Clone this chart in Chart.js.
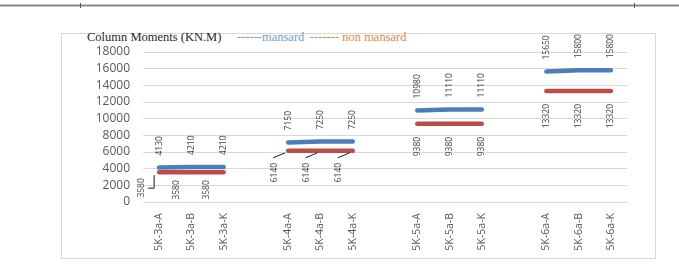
<!DOCTYPE html>
<html>
<head>
<meta charset="utf-8">
<title>Column Moments</title>
<script src="https://cdn.jsdelivr.net/npm/chart.js@4.4.0/dist/chart.umd.min.js"></script>
<style>
  html, body { margin: 0; padding: 0; background: #fff; }
  body { width: 679px; height: 264px; position: relative; overflow: hidden; }
  #rule { position: absolute; left: 0; top: 4px; width: 679px; height: 3px; background: #c9c9c9; }
  #rule i { position: absolute; left: 0; top: 1px; width: 679px; height: 1px; background: #808080; }
  .mark { position: absolute; top: 3px; width: 1px; height: 5px; background: #555; }
  #frame { position: absolute; left: 61px; top: 33px; width: 593px; height: 224px; border: 1px solid #d9d9d9; }
  .head { position: absolute; top: 30px; font: 12.5px "Liberation Serif", serif; white-space: pre; }
  canvas { position: absolute; left: 0; top: 0; }
</style>
</head>
<body>
<div id="rule"><i></i></div>
<div class="mark" style="left:80px"></div>
<div class="mark" style="left:634px"></div>
<div id="frame"></div>
<span class="head" style="left:87px;color:#262626">Column Moments (KN.M)</span>
<span class="head" style="left:237px;color:#6f9bd6">------mansard</span>
<span class="head" style="left:310px;color:#ec8643">------- non mansard</span>
<canvas id="chart" width="679" height="264"></canvas>
<script>
// empty strings are the spacer slots between the groups
const categories = ['5K-3a-A', '5K-3a-B', '5K-3a-K', '',
                    '5K-4a-A', '5K-4a-B', '5K-4a-K', '',
                    '5K-5a-A', '5K-5a-B', '5K-5a-K', '',
                    '5K-6a-A', '5K-6a-B', '5K-6a-K'];
const mansard    = [4130, 4210, 4210, null, 7150, 7250, 7250, null, 10980, 11110, 11110, null, 15650, 15800, 15800];
const nonMansard = [3580, 3580, 3580, null, 6140, 6140, 6140, null, 9380, 9380, 9380, null, 13320, 13320, 13320];
const yMax = 18000;
const yStep = 2000;

// value labels, written vertically like the Excel original
const valueLabels = {
  id: 'valueLabels',
  afterDatasetsDraw(chart, args, opts) {
    const ctx = chart.ctx;
    ctx.save();
    ctx.font = '8.5px "Open Sans"';
    ctx.fillStyle = '#404040';
    ctx.strokeStyle = '#1a1a1a';
    ctx.lineWidth = 1;
    ctx.textBaseline = 'middle';
    chart.data.datasets.forEach((ds, di) => {
      const meta = chart.getDatasetMeta(di);
      meta.data.forEach((pt, i) => {
        const v = ds.data[i];
        if (v == null) return;
        const x = pt.x, y = pt.y;
        if (di === 0) {
          ctx.save();
          ctx.translate(x, y - 12);
          ctx.rotate(-Math.PI / 2);
          ctx.textAlign = 'left';
          ctx.fillText(String(v), 0, 0);
          ctx.restore();
          return;
        }
        const sh = opts.shift[i] || [0, 13];
        const lead = opts.leaders[i];
        if (lead === 'elbow') {
          ctx.beginPath();
          ctx.moveTo(x - 5, y + 3);
          ctx.lineTo(x - 5, y + 16);
          ctx.lineTo(x - 11, y + 16);
          ctx.stroke();
        } else if (lead === 'line') {
          ctx.beginPath();
          ctx.moveTo(x - 3, y + 2);
          ctx.lineTo(x - 15, y + 7);
          ctx.stroke();
        }
        ctx.save();
        ctx.translate(x + sh[0], y + sh[1]);
        ctx.rotate(-Math.PI / 2);
        ctx.textAlign = 'right';
        ctx.fillText(String(v), 0, 0);
        ctx.restore();
      });
    });
    ctx.restore();
  }
};

const tickFont = { family: 'Open Sans', size: 12 };

new Chart(document.getElementById('chart'), {
  type: 'line',
  data: {
    labels: categories,
    datasets: [{
      label: 'mansard',
      data: mansard,
      borderColor: '#4a7ebb',
      borderWidth: 4.5,
      borderCapStyle: 'round',
      pointRadius: 0
    }, {
      label: 'non mansard',
      data: nonMansard,
      borderColor: '#be4b48',
      borderWidth: 4.5,
      borderCapStyle: 'round',
      pointRadius: 0
    }]
  },
  options: {
    responsive: false,
    animation: false,
    layout: { padding: { left: 0, right: 52, top: 52, bottom: 0 } },
    plugins: {
      legend: { display: false },
      tooltip: { enabled: false },
      valueLabels: {
        shift: { 0: [-18, 6], 1: [-15, 8], 2: [-17, 8], 4: [-14, 12], 5: [-14, 12], 6: [-14, 12] },
        leaders: { 0: 'elbow', 4: 'line', 5: 'line', 6: 'line' }
      }
    },
    scales: {
      x: {
        offset: true,
        grid: { display: false, drawTicks: false },
        border: { display: false },
        ticks: {
          autoSkip: false, minRotation: 90, maxRotation: 90, padding: 11,
          color: '#595959', font: { family: 'Open Sans', size: 10.5 }
        },
        afterFit(s) { s.height = 62; }
      },
      y: {
        min: 0, max: yMax,
        grid: { color: '#d9d9d9', drawTicks: false },
        border: { display: false },
        ticks: { autoSkip: false, stepSize: yStep, padding: 13, color: '#595959', font: tickFont, callback: v => String(v) },
        afterFit(s) { s.width = 143; }
      }
    }
  },
  plugins: [valueLabels]
});
</script>
</body>
</html>
